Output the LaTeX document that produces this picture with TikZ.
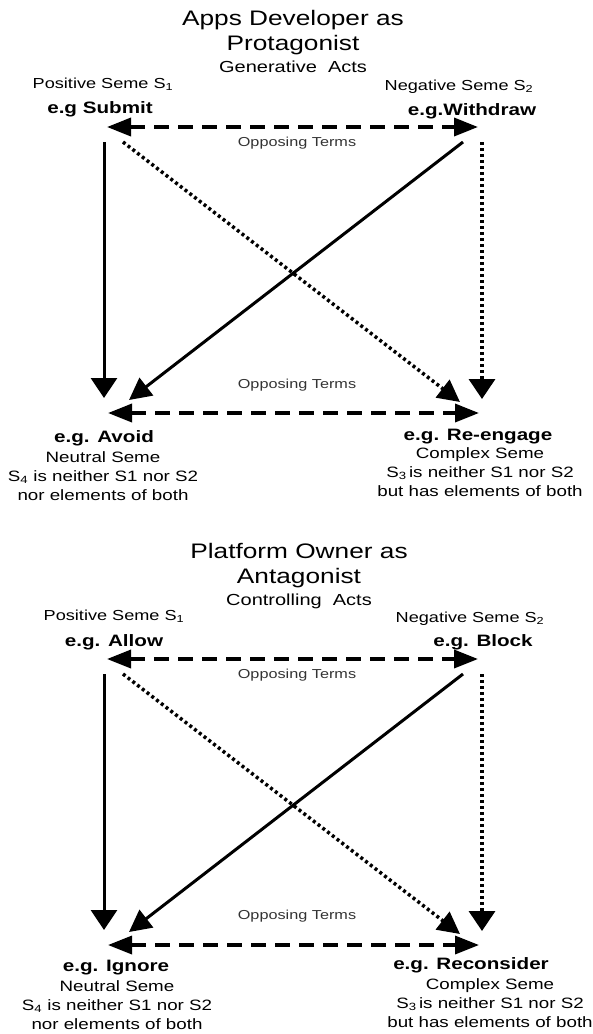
\documentclass[tikz,border=0pt]{standalone}
\usepackage{fontspec}
\setmainfont[FakeStretch=1.25]{Liberation Sans}
\usetikzlibrary{arrows.meta,positioning}

\begin{document}
\begin{tikzpicture}[x=1pt, y=-1pt,
  title/.style={align=center, inner sep=0pt, anchor=base, font=\fontsize{21}{25}\selectfont},
  acts/.style={inner sep=0pt, anchor=base, font=\fontsize{16}{19}\selectfont},
  seme/.style={inner sep=0pt, anchor=base, font=\fontsize{14.5}{17}\selectfont},
  term/.style={inner sep=0pt, anchor=base, font=\fontsize{16.5}{19}\selectfont\bfseries},
  note/.style={align=center, inner sep=0pt, anchor=base, font=\fontsize{15}{19}\selectfont},
  opp/.style={inner sep=0pt, anchor=base, text=black!80, font=\fontsize{13}{15}\selectfont},
  opposing/.style={{Triangle[length=24pt,width=18pt]}-{Triangle[length=24pt,width=18pt]}, line width=3.5pt, dash pattern=on 15pt off 9pt},
  vline/.style={-{Triangle[length=20pt,width=26pt]}, line width=3pt},
  dline/.style={-{Triangle[length=22pt,width=22pt]}, line width=3pt},
  dots/.style={dash pattern=on 3pt off 3pt, line width=3.5pt}
]
\useasboundingbox (0,0) rectangle (593,1034);

% Apps Developer
\node (dev) at (293,50) [title] {Apps Developer as\\Protagonist};
\node (devacts) at (293,72) [acts] {Generative~~Acts};
\node (dev-s1) at (103,88) [seme] {Positive Seme S\textsubscript{1}};
\node (dev-s2) at (459,90) [seme] {Negative Seme S\textsubscript{2}};
\node (submit) at (100,113) [term] {e.g Submit};
\node (withdraw) at (472,115) [term] {e.g.Withdraw};
\node (dev-opp1) at (297,146) [opp] {Opposing Terms};
\node (dev-opp2) at (297,388) [opp] {Opposing Terms};
\node (avoid) at (104,442) [term] {e.g. Avoid};
\node (reengage) at (478,440) [term] {e.g. Re-engage};
\node (dev-s4) at (103,500) [note] {Neutral Seme\\S\textsubscript{4} is neither S1 nor S2\\nor elements of both};
\node (dev-s3) at (480,496) [note] {Complex Seme\\S\textsubscript{3}\,is neither S1 nor S2\\but has elements of both};

\coordinate (submit-h) at (107,127);
\coordinate (withdraw-h) at (478,127);
\coordinate (submit-v) at (104,142);
\coordinate (submit-d) at (123,142);
\coordinate (withdraw-v) at (482,142);
\coordinate (withdraw-d) at (463,142);
\coordinate (avoid-v) at (104,398);
\coordinate (avoid-d) at (129,400);
\coordinate (avoid-h) at (108,413);
\coordinate (reengage-v) at (482,399);
\coordinate (reengage-d) at (460,402);
\coordinate (reengage-h) at (479,413);

\draw [opposing] (submit-h) -- (withdraw-h);
\draw [opposing] (avoid-h) -- (reengage-h);
\draw [vline] (submit-v) -- (avoid-v);
\draw [vline, dots] (withdraw-v) -- (reengage-v);
\draw [dline] (withdraw-d) -- (avoid-d);
\draw [dline, dots] (submit-d) -- (reengage-d);

% Platform Owner
\node (owner) at (299,583) [title] {Platform Owner as\\Antagonist};
\node (owneracts) at (299,605) [acts] {Controlling~~Acts};
\node (own-s1) at (114,620) [seme] {Positive Seme S\textsubscript{1}};
\node (own-s2) at (470,622) [seme] {Negative Seme S\textsubscript{2}};
\node (allow) at (114,646) [term] {e.g. Allow};
\node (block) at (483,646) [term] {e.g. Block};
\node (own-opp1) at (297,678) [opp] {Opposing Terms};
\node (own-opp2) at (297,919) [opp] {Opposing Terms};
\node (ignore) at (116,971) [term] {e.g. Ignore};
\node (reconsider) at (471,969) [term] {e.g. Reconsider};
\node (own-s4) at (117,1029) [note] {Neutral Seme\\S\textsubscript{4} is neither S1 nor S2\\nor elements of both};
\node (own-s3) at (490,1027) [note] {Complex Seme\\S\textsubscript{3}\,is neither S1 nor S2\\but has elements of both};

\coordinate (allow-h) at (107,659);
\coordinate (block-h) at (478,659);
\coordinate (allow-v) at (104,674);
\coordinate (allow-d) at (123,674);
\coordinate (block-v) at (482,674);
\coordinate (block-d) at (463,674);
\coordinate (ignore-v) at (104,930);
\coordinate (ignore-d) at (129,932);
\coordinate (ignore-h) at (108,945);
\coordinate (reconsider-v) at (482,931);
\coordinate (reconsider-d) at (460,934);
\coordinate (reconsider-h) at (479,945);

\draw [opposing] (allow-h) -- (block-h);
\draw [opposing] (ignore-h) -- (reconsider-h);
\draw [vline] (allow-v) -- (ignore-v);
\draw [vline, dots] (block-v) -- (reconsider-v);
\draw [dline] (block-d) -- (ignore-d);
\draw [dline, dots] (allow-d) -- (reconsider-d);
\end{tikzpicture}
\end{document}
